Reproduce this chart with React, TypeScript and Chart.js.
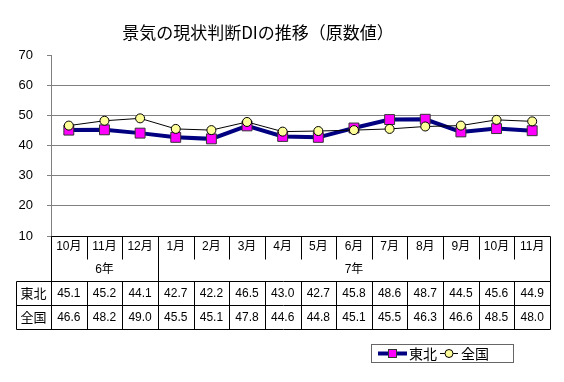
import { useEffect, useRef } from 'react';
import { Chart, registerables } from 'chart.js';

Chart.register(...registerables);

const TITLE = '景気の現状判断DIの推移（原数値）';
const months = ['10月', '11月', '12月', '1月', '2月', '3月', '4月', '5月', '6月', '7月', '8月', '9月', '10月', '11月'];
const yearLabels = ['6年', '7年'];
const yearSpans = [3, 11];
const seriesNames = ['東北', '全国'];
const tohoku = [45.1, 45.2, 44.1, 42.7, 42.2, 46.5, 43.0, 42.7, 45.8, 48.6, 48.7, 44.5, 45.6, 44.9];
const zenkoku = [46.6, 48.2, 49.0, 45.5, 45.1, 47.8, 44.6, 44.8, 45.1, 45.5, 46.3, 46.6, 48.5, 48.0];
const yMin = 10;
const yMax = 70;
const yStep = 10;

const FONT = '"Liberation Sans", Arial, "Noto Sans CJK JP", sans-serif';
const CJK = '"Noto Sans CJK JP", "Liberation Sans", sans-serif';

const NAVY = '#000080';
const MAGENTA = '#FF00FF';
const YELLOW = '#FFFF99';

const tablePlugin = {
  id: 'tablePlugin',
  afterDraw(chart: any) {
    const { ctx, chartArea } = chart;
    const xs = chart.scales.x;
    const n = months.length;
    const left = chartArea.left;
    const right = chartArea.right;
    const top = chartArea.bottom;
    const centers = months.map((_, i) => xs.getPixelForValue(i));
    const bounds: number[] = [left];
    for (let i = 1; i < n; i++) bounds.push((centers[i - 1] + centers[i]) / 2);
    bounds.push(right);
    const monthBottom = top + 23;
    const yearBottom = top + 45;
    const row1Bottom = yearBottom + 24;
    const row2Bottom = row1Bottom + 24;
    const tableLeft = 16;
    const px = (v: number) => Math.round(v) + 0.5;

    ctx.save();
    // title
    ctx.fillStyle = '#000';
    ctx.font = `17px ${CJK}`;
    ctx.textAlign = 'center';
    ctx.textBaseline = 'middle';
    ctx.fillText(TITLE, 258, 33);

    // table lines
    ctx.strokeStyle = '#000';
    ctx.lineWidth = 1;
    const line = (x1: number, y1: number, x2: number, y2: number) => {
      ctx.beginPath();
      ctx.moveTo(x1, y1);
      ctx.lineTo(x2, y2);
      ctx.stroke();
    };
    line(px(left), px(top), px(right), px(top));
    line(px(tableLeft), px(yearBottom), px(right), px(yearBottom));
    line(px(tableLeft), px(row1Bottom), px(right), px(row1Bottom));
    line(px(tableLeft), px(row2Bottom), px(right), px(row2Bottom));
    line(px(left), px(top), px(left), px(row2Bottom));
    line(px(right), px(top), px(right), px(row2Bottom));
    line(px(tableLeft), px(yearBottom), px(tableLeft), px(row2Bottom));
    // group boundaries
    let acc = 0;
    const groupStarts: number[] = [];
    yearSpans.forEach((s) => {
      groupStarts.push(acc);
      acc += s;
    });
    for (let i = 1; i < n; i++) {
      const isGroup = groupStarts.includes(i);
      line(px(bounds[i]), px(top), px(bounds[i]), px(isGroup ? row2Bottom : monthBottom));
      if (!isGroup) line(px(bounds[i]), px(yearBottom), px(bounds[i]), px(row2Bottom));
    }

    // month labels
    ctx.font = `12px ${FONT}`;
    months.forEach((m, i) => ctx.fillText(m, centers[i], top + 11));
    // year labels
    yearLabels.forEach((y, gi) => {
      const s = groupStarts[gi];
      const e = s + yearSpans[gi];
      ctx.fillText(y, (bounds[s] + bounds[e]) / 2, top + 34);
    });
    // data rows
    const rows = [tohoku, zenkoku];
    const rowCenters = [(yearBottom + row1Bottom) / 2, (row1Bottom + row2Bottom) / 2];
    rows.forEach((r, ri) => {
      ctx.font = `13px ${CJK}`;
      ctx.fillText(seriesNames[ri], (tableLeft + left) / 2, rowCenters[ri] + 0.5);
      ctx.font = `12px ${FONT}`;
      r.forEach((v, i) => ctx.fillText(v.toFixed(1), centers[i], rowCenters[ri] + 0.5));
    });

    // legend
    const lx = 371, ly = 344, lw = 142, lh = 18;
    ctx.fillStyle = '#fff';
    ctx.fillRect(lx, ly, lw, lh);
    ctx.strokeStyle = '#666';
    ctx.strokeRect(lx + 0.5, ly + 0.5, lw, lh);
    const cy = ly + lh / 2 + 0.5;
    ctx.strokeStyle = NAVY;
    ctx.lineWidth = 4;
    line(378, cy, 407, cy);
    ctx.fillStyle = MAGENTA;
    ctx.strokeStyle = '#333';
    ctx.lineWidth = 1;
    ctx.fillRect(388, cy - 4.5, 9, 9);
    ctx.strokeRect(388.5, cy - 4, 8, 8);
    ctx.fillStyle = '#000';
    ctx.textAlign = 'left';
    ctx.font = `14px ${CJK}`;
    ctx.fillText(seriesNames[0], 409, cy);
    ctx.strokeStyle = '#000';
    line(440, cy, 458, cy);
    ctx.beginPath();
    ctx.arc(449, cy, 4, 0, Math.PI * 2);
    ctx.fillStyle = YELLOW;
    ctx.fill();
    ctx.stroke();
    ctx.fillStyle = '#000';
    ctx.fillText(seriesNames[1], 461, cy);
    ctx.restore();
  },
};

export default function App() {
  const ref = useRef<HTMLCanvasElement>(null);
  useEffect(() => {
    if (!ref.current) return;
    const chart = new Chart(ref.current, {
      type: 'line',
      data: {
        labels: months,
        datasets: [
          {
            label: seriesNames[0],
            data: tohoku,
            borderColor: NAVY,
            borderWidth: 4,
            pointStyle: 'rect',
            pointRadius: 7,
            pointBackgroundColor: MAGENTA,
            pointBorderColor: '#333',
            pointBorderWidth: 1,
            tension: 0,
            order: 1,
          },
          {
            label: seriesNames[1],
            data: zenkoku,
            borderColor: '#000',
            borderWidth: 1,
            pointStyle: 'circle',
            pointRadius: 4.5,
            pointBackgroundColor: YELLOW,
            pointBorderColor: '#000',
            pointBorderWidth: 1,
            tension: 0,
            order: 0,
          },
        ],
      },
      options: {
        responsive: false,
        animation: false,
        devicePixelRatio: 1,
        layout: { padding: { left: 0, right: 14, top: 55, bottom: 146 } },
        plugins: {
          legend: { display: false },
          title: { display: false },
          tooltip: { enabled: false },
        },
        scales: {
          x: { type: 'category', display: false, offset: true },
          y: {
            min: yMin,
            max: yMax,
            ticks: { stepSize: yStep, color: '#000', font: { family: FONT, size: 13 }, padding: 14 },
            grid: {
              color: (c: any) => (c.tick && c.tick.value === yMax ? 'rgba(0,0,0,0)' : '#808080'),
              tickColor: '#808080',
              tickLength: 4,
            },
            border: { color: '#808080' },
            afterFit: (s: any) => {
              s.width = 51;
            },
          },
        },
      },
      plugins: [tablePlugin],
    });
    return () => chart.destroy();
  }, []);
  return (
    <div style={{ position: 'fixed', left: 0, top: 0, width: 564, height: 382, background: '#fff' }}>
      <canvas ref={ref} width={564} height={382} style={{ display: 'block' }} />
    </div>
  );
}
